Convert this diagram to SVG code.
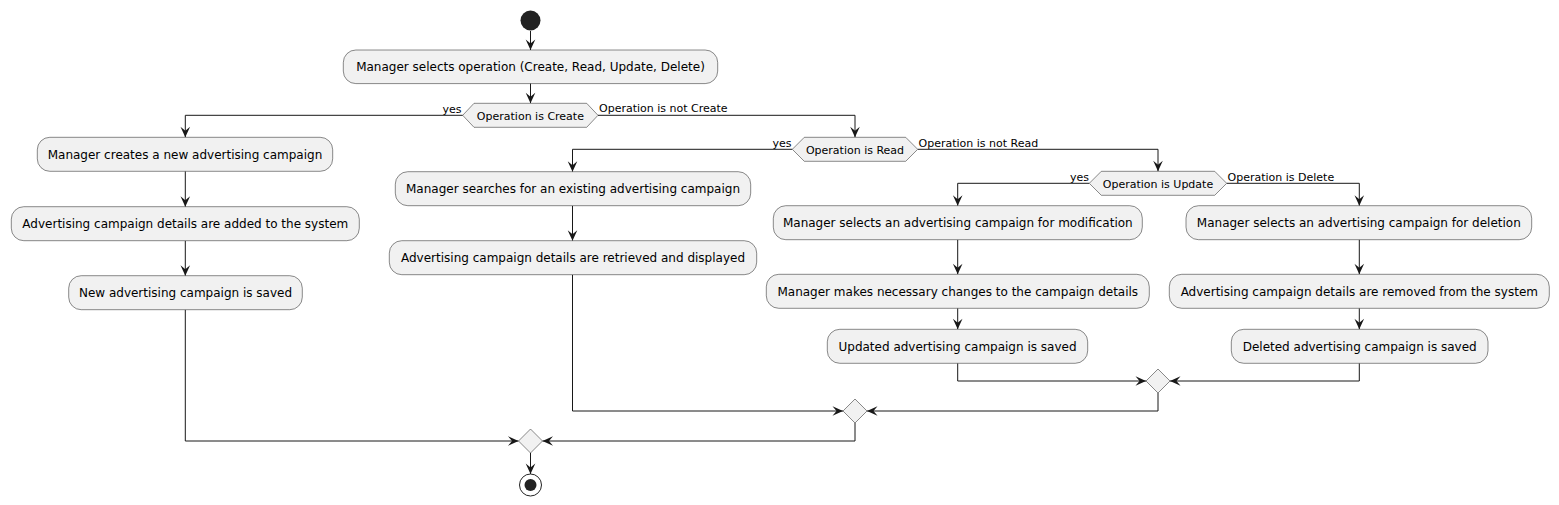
<svg xmlns="http://www.w3.org/2000/svg" width="1559" height="505" viewBox="0 0 1559 505">
<defs>
<marker id="arr" viewBox="-11 -5.5 12 11" refX="0" refY="0" markerWidth="12" markerHeight="11" markerUnits="userSpaceOnUse" orient="auto">
<path d="M0,0 L-10.5,-4.8 L-6.5,0 L-10.5,4.8 Z" fill="#181818"/>
</marker>
<style>
.box{fill:#F1F1F1;stroke:#181818;stroke-width:0.5}
.t{font-family:"DejaVu Sans","Liberation Sans",sans-serif;font-size:12px;fill:#000;text-anchor:middle}
.dt{font-family:"DejaVu Sans","Liberation Sans",sans-serif;font-size:11px;fill:#000;text-anchor:middle}
.lbl{font-family:"DejaVu Sans","Liberation Sans",sans-serif;font-size:11px;fill:#000}
.e{text-anchor:end}
.c{fill:none;stroke:#181818;stroke-width:1;marker-end:url(#arr)}
</style>
</defs>
<rect width="1559" height="505" fill="#FFFFFF"/>

<g id="connectors">
<path class="c" d="M530.5,31 V50"/>
<path class="c" d="M530.5,83.3 V103.3"/>
<path class="c" d="M462.7,115.3 H185.3 V137.3"/>
<path class="c" d="M598,115.3 H855 V137.3"/>
<path class="c" d="M185.3,171.3 V206.7"/>
<path class="c" d="M185.3,240.7 V275.7"/>
<path class="c" d="M185.3,309.7 V441 H518.5"/>
<path class="c" d="M792.3,149.3 H572.5 V171.7"/>
<path class="c" d="M917.7,149.3 H1158 V171.3"/>
<path class="c" d="M572.5,205.7 V240.7"/>
<path class="c" d="M572.5,274.7 V411 H843"/>
<path class="c" d="M1089.3,183.3 H957.7 V205.7"/>
<path class="c" d="M1226.7,183.3 H1359.3 V205.7"/>
<path class="c" d="M957.7,239.7 V274.3"/>
<path class="c" d="M957.7,308.3 V329.3"/>
<path class="c" d="M957.7,363.3 V381 H1146"/>
<path class="c" d="M1359.3,239.7 V274.3"/>
<path class="c" d="M1359.3,308.3 V329.3"/>
<path class="c" d="M1359.3,363.3 V381 H1170"/>
<path class="c" d="M1158,393 V411 H867"/>
<path class="c" d="M855,423 V441 H542.5"/>
<path class="c" d="M530.5,453 V474"/>
<text class="lbl e" x="461.5" y="112.5">yes</text>
<text class="lbl" x="599" y="112.3">Operation is not Create</text>
<text class="lbl e" x="791.5" y="146.5">yes</text>
<text class="lbl" x="918.5" y="146.5">Operation is not Read</text>
<text class="lbl e" x="1089" y="180.5">yes</text>
<text class="lbl" x="1227.5" y="180.5">Operation is Delete</text>
</g>

<g id="start"><circle cx="530.5" cy="20.5" r="10" fill="#222222"/></g>

<g id="n0"><rect class="box" x="343.3" y="50" width="374.4" height="33.6" rx="12.5"/><text class="t" x="530.5" y="71.3">Manager selects operation (Create, Read, Update, Delete)</text></g>

<g id="dCreate"><polygon class="box" points="462.7,115.3 474,103.3 586.7,103.3 598,115.3 586.7,127.3 474,127.3"/><text class="dt" x="530.4" y="119.8">Operation is Create</text></g>

<g id="n1"><rect class="box" x="37.3" y="137.3" width="295.4" height="34" rx="12.5"/><text class="t" x="185" y="158.7">Manager creates a new advertising campaign</text></g>
<g id="n2"><rect class="box" x="11.3" y="206.7" width="348" height="34" rx="12.5"/><text class="t" x="185.3" y="228.1">Advertising campaign details are added to the system</text></g>
<g id="n3"><rect class="box" x="68.7" y="275.7" width="233.6" height="34" rx="12.5"/><text class="t" x="185.5" y="297.1">New advertising campaign is saved</text></g>

<g id="dRead"><polygon class="box" points="792.3,149.3 804.3,137.3 905.7,137.3 917.7,149.3 905.7,161.3 804.3,161.3"/><text class="dt" x="855" y="153.8">Operation is Read</text></g>

<g id="n4"><rect class="box" x="395.3" y="171.7" width="355.4" height="34" rx="12.5"/><text class="t" x="573" y="193.1">Manager searches for an existing advertising campaign</text></g>
<g id="n5"><rect class="box" x="389.3" y="240.7" width="367.4" height="34" rx="12.5"/><text class="t" x="573" y="262.1">Advertising campaign details are retrieved and displayed</text></g>

<g id="dUpdate"><polygon class="box" points="1089.3,183.3 1101.3,171.3 1214.7,171.3 1226.7,183.3 1214.7,195.3 1101.3,195.3"/><text class="dt" x="1158" y="187.8">Operation is Update</text></g>

<g id="n6"><rect class="box" x="773.3" y="205.7" width="369" height="34" rx="12.5"/><text class="t" x="957.8" y="227.1">Manager selects an advertising campaign for modification</text></g>
<g id="n7"><rect class="box" x="766.3" y="274.3" width="383" height="34" rx="12.5"/><text class="t" x="957.8" y="295.7">Manager makes necessary changes to the campaign details</text></g>
<g id="n8"><rect class="box" x="827.3" y="329.3" width="260.4" height="34" rx="12.5"/><text class="t" x="957.5" y="350.7">Updated advertising campaign is saved</text></g>

<g id="n9"><rect class="box" x="1186" y="205.7" width="345.7" height="34" rx="12.5"/><text class="t" x="1358.8" y="227.1">Manager selects an advertising campaign for deletion</text></g>
<g id="n10"><rect class="box" x="1169.3" y="274.3" width="380" height="34" rx="12.5"/><text class="t" x="1359.3" y="295.7">Advertising campaign details are removed from the system</text></g>
<g id="n11"><rect class="box" x="1231.3" y="329.3" width="256.7" height="34" rx="12.5"/><text class="t" x="1359.7" y="350.7">Deleted advertising campaign is saved</text></g>

<g id="mUpdate"><polygon class="box" points="1158,369 1170,381 1158,393 1146,381"/></g>
<g id="mRead"><polygon class="box" points="855,399 867,411 855,423 843,411"/></g>
<g id="mCreate"><polygon class="box" points="530.5,429 542.5,441 530.5,453 518.5,441"/></g>

<g id="end"><circle cx="530.5" cy="485" r="11" fill="none" stroke="#222222" stroke-width="1"/><circle cx="530.5" cy="485" r="6" fill="#222222"/></g>
</svg>
